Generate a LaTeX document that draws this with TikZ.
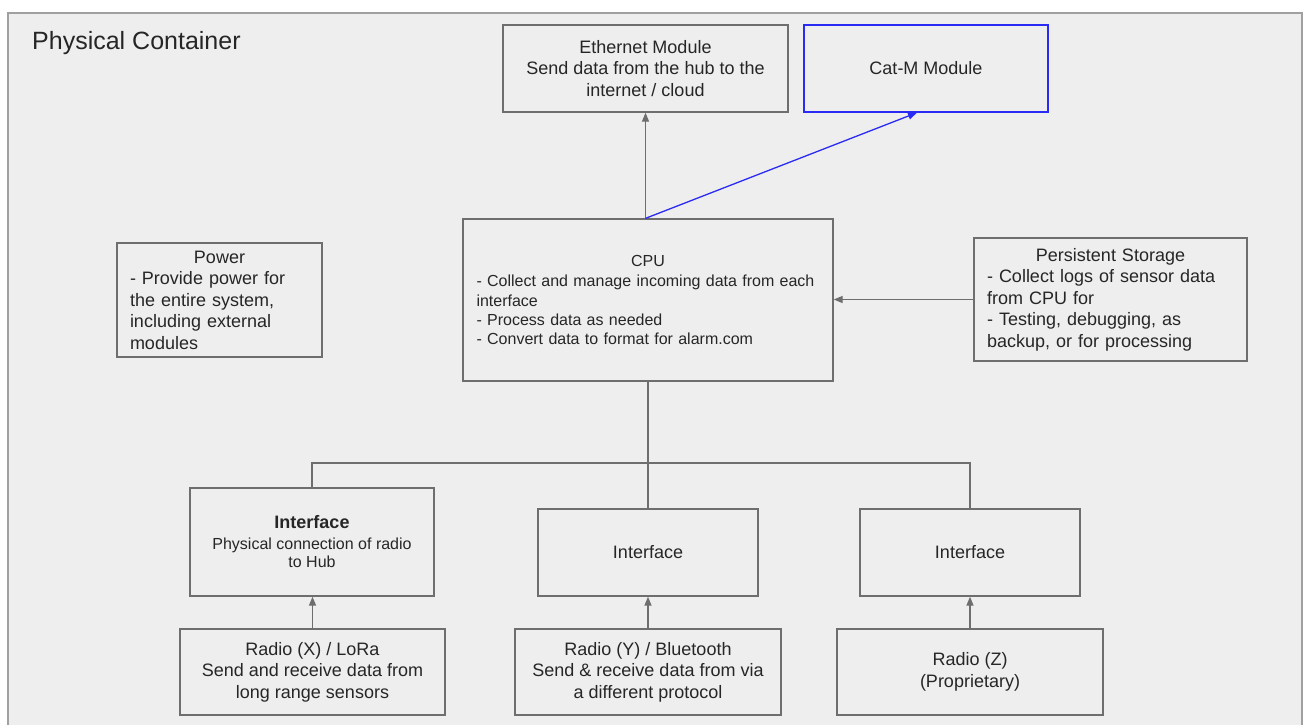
\documentclass[tikz,border=0pt]{standalone}
\usepackage{fontspec}
\setmainfont{Liberation Sans}
\usetikzlibrary{arrows.meta,calc}
\definecolor{bg}{HTML}{EEEEEE}
\definecolor{bord}{HTML}{6E6E6E}
\definecolor{txt}{HTML}{262626}
\definecolor{catblue}{HTML}{2A2AF5}
\definecolor{contb}{HTML}{A0A0A0}
\begin{document}
\begin{tikzpicture}[x=1pt,y=-1pt,
  box/.style={draw=bord, line width=1.3pt, fill=bg, text=txt, inner sep=0pt,
    font=\fontsize{18}{21.5}\selectfont, align=center},
  small/.style={font=\fontsize{16}{19.4}\selectfont},
  arr/.style={draw=bord, line width=1.3pt, -{Triangle[length=9pt,width=7pt]}},
  link/.style={draw=bord, line width=1.3pt}]
\useasboundingbox (0,0) rectangle (1308,724);
\fill[white] (0,0) rectangle (1308,724);
\draw[contb, line width=2pt, fill=bg] (8,740) -- (8,13) -- (1302,13) -- (1302,740);
\node[text=txt, font=\fontsize{25}{28}\selectfont, anchor=west, inner sep=0pt] (title) at (32,43) {Physical Container};

\node[box, minimum width=285pt, minimum height=87pt] (eth) at (645.5,68.5)
  {Ethernet Module\\Send data from the hub to the\\internet / cloud};
\node[box, draw=catblue, minimum width=244pt, minimum height=87pt] (catm) at (926,68.5)
  {Cat-M Module};
\node[box, small, minimum width=370pt, minimum height=162pt, text width=343pt, align=left] (cpu) at (648,300)
  {\makebox[343pt]{CPU}\\[1pt]- Collect and manage incoming data from each\\interface\\- Process data as needed\\- Convert data to format for alarm.com};
\node[box, minimum width=205pt, minimum height=114pt, text width=179pt, align=left] (power) at (219.5,300)
  {\makebox[179pt]{Power}\\- Provide power for\\the entire system,\\including external\\modules};
\node[box, minimum width=273pt, minimum height=123pt, text width=247pt, align=left] (store) at (1110.5,299.5)
  {\makebox[247pt]{Persistent Storage}\\- Collect logs of sensor data\\from CPU for\\- Testing, debugging, as\\backup, or for processing};

\node[box, minimum width=244pt, minimum height=108pt, font=\fontsize{16}{18}\selectfont] (if1) at (312,542)
  {{\fontsize{18}{21}\selectfont\textbf{Interface}}\\[3pt]Physical connection of radio\\to Hub};
\node[box, minimum width=220pt, minimum height=87pt] (if2) at (648,552.5) {Interface};
\node[box, minimum width=220pt, minimum height=87pt] (if3) at (970,552.5) {Interface};

\node[box, minimum width=265pt, minimum height=86pt] (r1) at (312.5,672)
  {Radio (X) / LoRa\\Send and receive data from\\long range sensors};
\node[box, minimum width=266pt, minimum height=86pt] (r2) at (648,672)
  {Radio (Y) / Bluetooth\\Send \& receive data from via\\a different protocol};
\node[box, minimum width=266pt, minimum height=86pt] (r3) at (970,672)
  {Radio (Z)\\(Proprietary)};

\coordinate (bus) at (648,463);
\draw[arr] (r1.north) -- (r1.north |- if1.south);
\draw[arr] (r2.north) -- (r2.north |- if2.south);
\draw[arr] (r3.north) -- (r3.north |- if3.south);
\draw[link] (cpu.south) -- (if2.north);
\draw[link] (if1.north) -- (if1.north |- bus) -- (if3.north |- bus) -- (if3.north);
\draw[arr] (store.west) -- (store.west -| cpu.east);
\draw[arr] (eth.south |- cpu.north) -- (eth.south);
\draw[catblue, line width=1.3pt, -{Triangle[length=9pt,width=7pt]}] (eth.south |- cpu.north) -- ($(catm.south)+(-9,0)$);
\end{tikzpicture}
\end{document}
